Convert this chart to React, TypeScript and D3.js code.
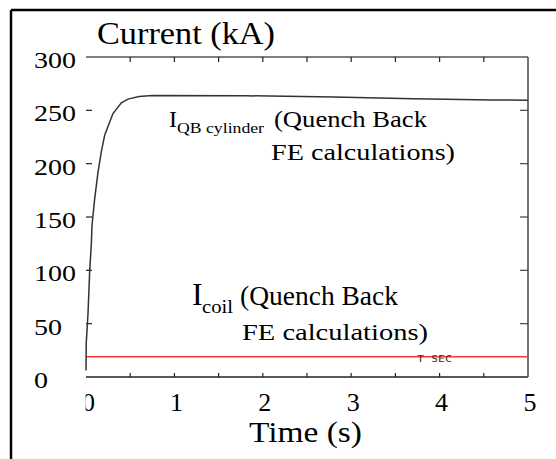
import React from "react";
import * as d3 from "d3";

const qbTimes = [0, 0.003, 0.023, 0.042, 0.06, 0.068, 0.098, 0.136, 0.173, 0.212, 0.305, 0.4, 0.475, 0.6, 0.75, 1.8, 2.8, 3.7, 4.6, 5];
const qbValues = [6, 32, 60, 100, 124, 142, 167, 192, 211, 227, 247, 257, 260.5, 263, 264, 263.7, 262.5, 260.8, 259.8, 259.4];
const coilTimes = [0, 5];
const coilValues = [19, 19];
const yTicks = [0, 50, 100, 150, 200, 250, 300];
const xTicks = [0, 1, 2, 3, 4, 5];
const minorX = [0.5, 1, 1.5, 2, 2.5, 3, 3.5, 4, 4.5];
const innerY = [50, 100, 150, 200, 250];

const W = 556, H = 459;
const serif = '"Liberation Serif", "DejaVu Serif", serif';

function T(props: any) {
  const { children, size, ...rest } = props;
  return (
    <text {...rest} style={{ fontFamily: serif, fontSize: size + "px" }} fill="#000">{children}</text>
  );
}

export default function App() {
  const x = d3.scaleLinear().domain([0, 5]).range([86, 528]);
  const y = d3.scaleLinear().domain([0, 300]).range([377, 57]);
  const line = d3.line<number>().x((_, i) => x(qbTimes[i])).y((d) => y(d));
  const coilLine = d3.line<number>().x((_, i) => x(coilTimes[i])).y((d) => y(d));
  const ink = "#222";

  return (
    <svg width={W} height={H} style={{ position: "absolute", left: 0, top: 0, background: "#fff" }}>
      <defs>
        <clipPath id="zeroClip">
          <rect x={85.6} y={380} width={40} height={40} />
        </clipPath>
      </defs>
      <line x1={11} y1={10} x2={W} y2={10} stroke="#000" strokeWidth={2.5} />
      <line x1={11} y1={10} x2={11} y2={H} stroke="#000" strokeWidth={2.5} />

      <T x={97} y={44} size={31} textLength={178} lengthAdjust="spacingAndGlyphs">Current (kA)</T>

      <line x1={x(0)} y1={y(300)} x2={x(5)} y2={y(300)} stroke="#555" strokeWidth={1.5} />
      <line x1={x(0)} y1={y(0)} x2={x(5)} y2={y(0)} stroke={ink} strokeWidth={1.5} />
      <line x1={x(5)} y1={y(300)} x2={x(5)} y2={y(0)} stroke="#444" strokeWidth={1.5} />

      {minorX.map((t) => (
        <g key={"mx" + t}>
          <line x1={x(t)} x2={x(t)} y1={y(300)} y2={y(300) + 5} stroke={ink} strokeWidth={1.2} />
          <line x1={x(t)} x2={x(t)} y1={y(0)} y2={y(0) - 4} stroke={ink} strokeWidth={1.2} />
        </g>
      ))}
      {innerY.map((v) => (
        <g key={"iy" + v}>
          <line x1={x(0)} x2={x(0) + 6} y1={y(v)} y2={y(v)} stroke={ink} strokeWidth={1.2} />
          <line x1={x(5) - 8} x2={x(5)} y1={y(v)} y2={y(v)} stroke="#444" strokeWidth={1.2} />
        </g>
      ))}

      {yTicks.map((v) => (
        <T key={"yl" + v} x={34} y={y(v) + 11} size={24} textLength={14 * String(v).length} lengthAdjust="spacingAndGlyphs">{v}</T>
      ))}

      {xTicks.map((v) => (
        <T key={"xl" + v} x={v === 0 ? x(v) + 2.5 : x(v) + 2} y={411} size={26} textAnchor="middle" clipPath={v === 0 ? "url(#zeroClip)" : undefined}>{v}</T>
      ))}

      <T x={249} y={442} size={29} textLength={113} lengthAdjust="spacingAndGlyphs">Time (s)</T>

      <path d={coilLine(coilValues) || ""} fill="none" stroke="#ff3535" strokeWidth={1.6} />
      <path d={line(qbValues) || ""} fill="none" stroke="#333" strokeWidth={1.5} />

      <text x={417} y={362} style={{ fontFamily: '"DejaVu Sans Mono", monospace', fontSize: "9px" }} textLength={35} lengthAdjust="spacingAndGlyphs" fill="#333">T SEC</text>

      <T x={169} y={127} size={24}>I</T>
      <T x={177} y={133} size={15} textLength={87} lengthAdjust="spacingAndGlyphs">QB cylinder</T>
      <T x={274} y={127} size={24} textLength={153} lengthAdjust="spacingAndGlyphs">(Quench Back</T>
      <T x={271} y={160} size={24} textLength={184} lengthAdjust="spacingAndGlyphs">FE calculations)</T>

      <T x={192} y={305} size={32}>I</T>
      <T x={202} y={313} size={19} textLength={31} lengthAdjust="spacingAndGlyphs">coil</T>
      <T x={240} y={305} size={27} textLength={158} lengthAdjust="spacingAndGlyphs">(Quench Back</T>
      <T x={242} y={340} size={24} textLength={186} lengthAdjust="spacingAndGlyphs">FE calculations)</T>
    </svg>
  );
}
